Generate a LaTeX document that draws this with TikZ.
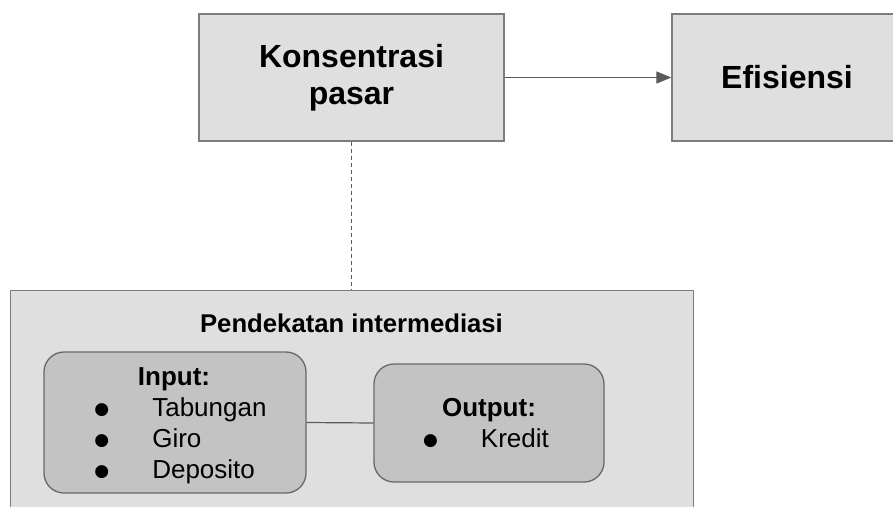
\documentclass[tikz,border=0pt]{standalone}
\usepackage{fontspec}
\setmainfont{Liberation Sans}
\newfontfamily\simbol{DejaVu Sans}
\usetikzlibrary{arrows.meta}
\definecolor{boxfill}{HTML}{DFDFDF}
\definecolor{innerfill}{HTML}{C3C3C3}
\definecolor{edge}{HTML}{7C7C7C}
\definecolor{wire}{HTML}{5A5A5A}
\newcommand{\butir}{\raisebox{2pt}{\simbol\fontsize{17}{20}\selectfont ●}}

\begin{document}
\begin{tikzpicture}[x=1pt,y=1pt,
  kotak/.style={draw=edge,fill=boxfill,line width=1.3pt,inner sep=0pt},
  bulat/.style={draw=edge!85!black,fill=innerfill,line width=1.3pt,rounded corners=20pt,inner sep=0pt},
  garis/.style={draw=wire,line width=1.2pt},
  besar/.style={font=\fontsize{32}{37}\selectfont\bfseries,align=center},
  isi/.style={font=\fontsize{26}{31}\selectfont,inner sep=0pt}]
\useasboundingbox (0,0) rectangle (893,-506);
\node[kotak,besar,minimum width=305pt,minimum height=127pt] (konsentrasi) at (351.5,-77.5) {Konsentrasi\\pasar};
\node[kotak,besar,minimum width=230pt,minimum height=127pt] (efisiensi) at (787,-77.5) {Efisiensi};
\node[kotak,line width=1pt,minimum width=683pt,minimum height=230pt,anchor=north] (pendekatan) at (351.5,-290) {};
\node[font=\fontsize{25.7}{30}\selectfont\bfseries,anchor=base] (judul) at (351.5,-332) {Pendekatan intermediasi};
\node[bulat,minimum width=262pt,minimum height=141pt] (input) at (175,-422.5) {};
\node[bulat,minimum width=230pt,minimum height=118pt] (output) at (489,-423) {};
\node[isi] (daftarinput) at (180.5,-426) {%
  \begin{tabular}{@{}c@{\hspace{43pt}}l@{}}
  \multicolumn{2}{c}{\hspace{-13pt}\bfseries Input:}\\
  \butir & Tabungan\\
  \butir & Giro\\
  \butir & Deposito
  \end{tabular}};
\node[isi] (daftaroutput) at (486,-426) {%
  \begin{tabular}{@{}c@{\hspace{43pt}}l@{}}
  \multicolumn{2}{c}{\hspace{6pt}\bfseries Output:}\\
  \butir & Kredit
  \end{tabular}};
\draw[garis,-{Triangle[length=15pt,width=12pt]}] (konsentrasi.east) -- (efisiensi.west);
\draw[garis,line width=1pt,dash pattern=on 4pt off 3pt] (konsentrasi.south) -- (pendekatan.north);
\draw[garis] (input.east) -- (output.west);
\end{tikzpicture}
\end{document}
